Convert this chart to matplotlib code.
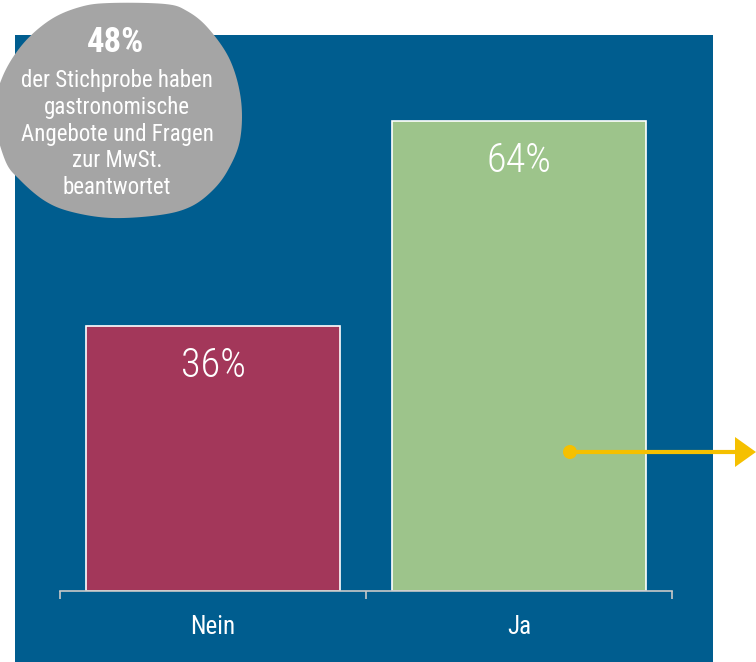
import matplotlib
matplotlib.use("Agg")
import matplotlib.pyplot as plt
from matplotlib import font_manager
from matplotlib.patches import Rectangle, Polygon, Circle
import numpy as np

names = {f.name for f in font_manager.fontManager.ttflist}
font = "Roboto Condensed" if "Roboto Condensed" in names else (
    "Liberation Sans Narrow" if "Liberation Sans Narrow" in names else "Roboto")
plt.rcParams["font.family"] = [font, "DejaVu Sans"]

categories = ["Nein", "Ja"]
values = [36, 64]
labels = ["36%", "64%"]
bar_colors = ["#a3375a", "#9dc48b"]
note_big = "48%"
note_text = "der Stichprobe haben\ngastronomische\nAngebote und Fragen\nzur MwSt.\nbeantwortet"

W, H = 756, 662
fig = plt.figure(figsize=(W / 100, H / 100), dpi=100)
fig.patch.set_facecolor("white")

def pixel_axes(z):
    a = fig.add_axes([0, 0, 1, 1], zorder=z)
    a.set_xlim(0, W)
    a.set_ylim(H, 0)
    a.axis("off")
    a.patch.set_alpha(0)
    return a

bg = pixel_axes(0)
bg.add_patch(Rectangle((15, 35), 713 - 15, 662 - 35, facecolor="#005d8f", edgecolor="none"))

ax_l, ax_r, ax_b, ax_t = 60, 672, 591, 35
ax = fig.add_axes([ax_l / W, (H - ax_b) / H, (ax_r - ax_l) / W, (ax_b - ax_t) / H], zorder=1)
ax.patch.set_alpha(0)
x = np.arange(len(categories))
ax.bar(x, values, width=0.83, color=bar_colors, edgecolor="white", linewidth=1.2, zorder=2)
ax.set_xlim(-0.5, 1.5)
ax.set_ylim(0, (ax_b - ax_t) / 7.35)
for xi, v, lab in zip(x, values, labels):
    ax.text(xi, v - 5.4, lab, ha="center", va="center", color="white", fontsize=29,
            fontweight="light")
for s in ["top", "right", "left"]:
    ax.spines[s].set_visible(False)
ax.spines["bottom"].set_color("#c8c8c8")
ax.spines["bottom"].set_linewidth(1.2)
ax.set_yticks([])
ax.set_xticks([-0.5, 0.5, 1.5])
ax.set_xticklabels([])
ax.tick_params(axis="x", length=6, color="#c8c8c8", width=1.2, direction="out")
ax.set_xticks(x, minor=True)
ax.set_xticklabels(categories, minor=True)
ax.tick_params(axis="x", which="minor", length=0, pad=17, labelsize=18, labelcolor="white")

ov = pixel_axes(2)

# grey blob (closed Catmull-Rom through outline points)
pts = np.array([(110, 3), (165, 4), (187, 11), (208, 28), (230, 60), (241, 100),
                (240, 140), (228, 170), (212, 191), (190, 207), (160, 215), (112, 218),
                (72, 212), (45, 201), (20, 180), (5, 160), (-6, 115), (2, 78),
                (22, 45), (50, 20), (80, 7)], dtype=float)
n = len(pts)
curve = []
for i in range(n):
    p0, p1, p2, p3 = pts[i - 1], pts[i], pts[(i + 1) % n], pts[(i + 2) % n]
    for s in np.linspace(0, 1, 12, endpoint=False):
        s2, s3 = s * s, s * s * s
        curve.append(0.5 * ((2 * p1) + (-p0 + p2) * s + (2 * p0 - 5 * p1 + 4 * p2 - p3) * s2
                            + (-p0 + 3 * p1 - 3 * p2 + p3) * s3))
ov.add_patch(Polygon(np.array(curve), closed=True, facecolor="#a5a5a5",
                     edgecolor="none", zorder=3))
ov.text(116, 42, note_big, ha="center", va="center", color="white",
        fontsize=25, fontweight="bold", zorder=4)
ov.text(117, 134, note_text, ha="center", va="center", color="white",
        fontsize=16.5, linespacing=1.2, zorder=4)

# yellow arrow
yc = "#f5c000"
ov.plot([570, 738], [452, 452], color=yc, linewidth=3, zorder=4, solid_capstyle="butt")
ov.add_patch(Circle((570, 452), 7, facecolor=yc, edgecolor="none", zorder=5))
ov.add_patch(Polygon([[735, 437], [756, 452], [735, 467]], closed=True,
                     facecolor=yc, edgecolor="none", zorder=5))

fig.savefig("out.png", dpi=100)
